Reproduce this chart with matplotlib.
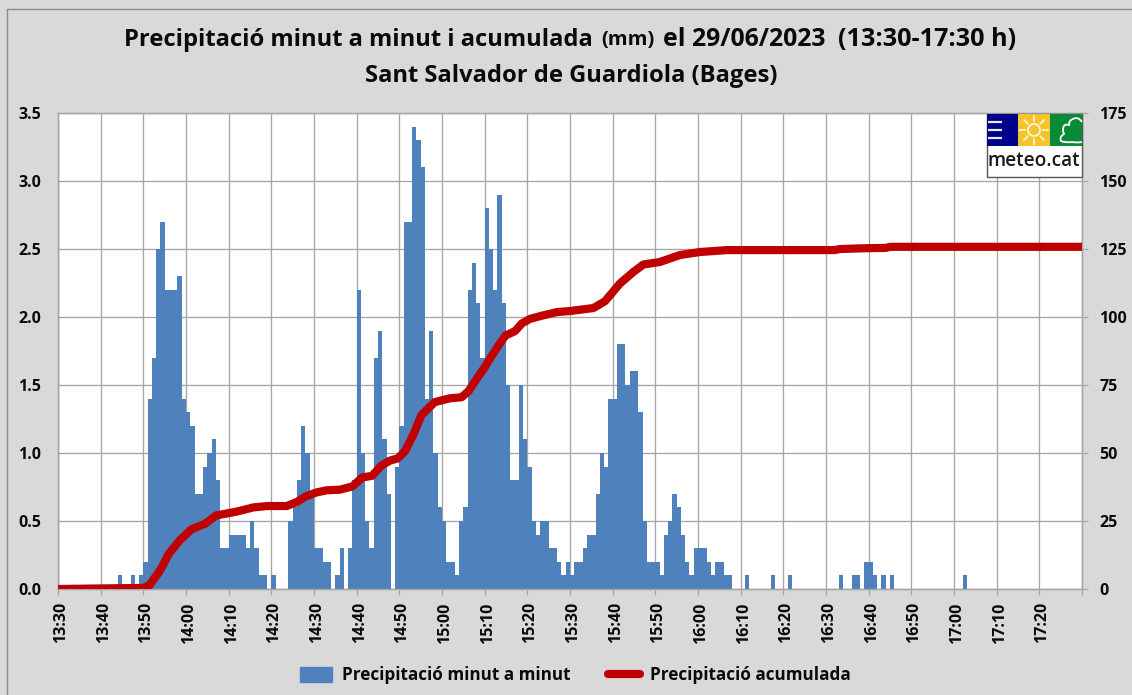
import matplotlib
matplotlib.use("Agg")
import matplotlib.pyplot as plt
from matplotlib.patches import Rectangle, Circle, PathPatch
from matplotlib.path import Path
from matplotlib.lines import Line2D
from matplotlib.transforms import ScaledTranslation
import numpy as np

plt.rcParams['font.family'] = ['Open Sans', 'DejaVu Sans']

# precipitation per minute (mm), one value per minute from 13:30
rain = [
    0, 0, 0, 0, 0, 0, 0, 0, 0, 0,
    0, 0, 0, 0, 0.1, 0, 0, 0.1, 0, 0.1,
    0.2, 1.4, 1.7, 2.5, 2.7, 2.2, 2.2, 2.2, 2.3, 1.4,
    1.3, 1.2, 0.7, 0.7, 0.9, 1.0, 1.1, 0.8, 0.3, 0.3,
    0.4, 0.4, 0.4, 0.4, 0.3, 0.5, 0.3, 0.1, 0.1, 0,
    0.1, 0, 0, 0, 0.5, 0.6, 0.8, 1.2, 1.0, 0.7,
    0.3, 0.3, 0.2, 0.2, 0, 0.1, 0.3, 0, 0.3, 0.8,
    2.2, 1.0, 0.5, 0.3, 1.7, 1.9, 1.1, 0.7, 0, 0.9,
    1.2, 2.7, 2.7, 3.4, 3.3, 3.1, 1.4, 1.9, 1.0, 0.6,
    0.5, 0.2, 0.2, 0.1, 0.5, 0.6, 2.2, 2.4, 2.1, 1.7,
    2.8, 2.5, 2.2, 2.9, 2.1, 1.5, 0.8, 0.8, 1.5, 1.1,
    0.9, 0.5, 0.4, 0.5, 0.5, 0.3, 0.3, 0.2, 0.1, 0.2,
    0.1, 0.2, 0.2, 0.3, 0.4, 0.4, 0.7, 1.0, 0.9, 1.4,
    1.4, 1.8, 1.8, 1.5, 1.6, 1.6, 1.3, 0.5, 0.2, 0.2,
    0.2, 0.1, 0.4, 0.5, 0.7, 0.6, 0.4, 0.2, 0.1, 0.3,
    0.3, 0.3, 0.2, 0.1, 0.2, 0.2, 0.1, 0.1, 0, 0,
    0, 0.1, 0, 0, 0, 0, 0, 0.1, 0, 0,
    0, 0.1, 0, 0, 0, 0, 0, 0, 0, 0,
    0, 0, 0, 0.1, 0, 0, 0.1, 0.1, 0, 0.2,
    0.2, 0.1, 0, 0.1, 0, 0.1, 0, 0, 0, 0,
    0, 0, 0, 0, 0, 0, 0, 0, 0, 0,
    0, 0, 0.1, 0, 0, 0, 0, 0, 0, 0,
    0, 0, 0, 0, 0, 0, 0, 0, 0, 0,
    0, 0, 0, 0, 0, 0, 0, 0, 0, 0,
]

# accumulated precipitation (mm)
acc_min = [0, 20, 21.5, 24, 26, 28.6, 31.3, 34.5, 37, 42, 45.8, 49, 53.6, 56, 58, 60.6,
           63, 66, 69, 71.3, 73.6, 75.8, 77.8, 79.6, 81.3, 83.3, 85.2, 88.3, 91.8, 94.6,
           96.2, 98.1, 100, 101.6, 103.2, 104.9, 107.1, 108.7, 110.6, 113.7, 116.9, 120,
           125.5, 128.2, 131.7, 134.8, 137.2, 141, 145.8, 150.5, 156.8, 182, 183.3,
           189.6, 194, 195, 240]
acc_mm = [0, 0.4, 1.5, 7, 13, 18, 22, 24, 27, 28.5, 30, 30.5, 30.5, 32, 34, 35.5,
          36.3, 36.5, 37.7, 41, 41.6, 45.4, 47.2, 48, 50.6, 56.8, 64, 68.7, 70.1, 70.5,
          72.7, 77.2, 81.5, 85.6, 89.5, 93.2, 94.8, 97.6, 99.3, 100.6, 101.8, 102.2,
          103.3, 105.8, 112.3, 116.5, 119.3, 120.2, 122.8, 123.9, 124.6, 124.6, 125,
          125.3, 125.4, 125.8, 125.8]

tick_labels = ["13:30", "13:40", "13:50", "14:00", "14:10", "14:20", "14:30", "14:40",
               "14:50", "15:00", "15:10", "15:20", "15:30", "15:40", "15:50", "16:00",
               "16:10", "16:20", "16:30", "16:40", "16:50", "17:00", "17:10", "17:20", ""]

W, H = 1132, 695
bg = '#D9D9D9'
grid_col = '#A6A6A6'
blue = '#4F81BD'
red = '#C00000'
txt = '#0A0A0A'
tick_size = 11.5
title_size = 17.1

fig = plt.figure(figsize=(W / 100, H / 100), dpi=100, facecolor=bg)
ax = fig.add_axes([58 / W, (H - 589) / H, 1024 / W, 476 / H])
ax.set_facecolor('white')

ax.bar(np.arange(len(rain)), rain, width=1.0, align='edge', color=blue, linewidth=0, zorder=3)
ax.set_xlim(0, 240)
ax.set_ylim(0, 3.5)
ax.set_yticks(np.arange(0, 3.51, 0.5))
ax.set_yticklabels(["%.1f" % v for v in np.arange(0, 3.51, 0.5)], fontsize=tick_size,
                   fontweight='bold', color=txt)
ax.set_xticks(np.arange(0, 241, 10))
ax.set_xticklabels(tick_labels, rotation=90, fontsize=tick_size, fontweight='bold', color=txt)
ax.tick_params(axis='x', length=4.5, width=0.9, color=grid_col, pad=5)
ax.tick_params(axis='y', length=0, pad=12)
ax.grid(True, color=grid_col, linewidth=0.95, zorder=1)
ax.set_axisbelow(True)
for t in ax.get_xticklabels():
    t.set_transform(t.get_transform() + ScaledTranslation(3 / 100, 0, fig.dpi_scale_trans))

ax2 = ax.twinx()
ax2.plot(acc_min, acc_mm, color=red, linewidth=5.9, solid_capstyle='butt',
         solid_joinstyle='round', zorder=5)
ax2.set_ylim(0, 175)
ax2.set_yticks(np.arange(0, 176, 25))
ax2.set_yticklabels([str(v) for v in range(0, 176, 25)], fontsize=tick_size, fontweight='bold', color=txt)
ax2.tick_params(axis='y', length=4.5, width=0.9, color=grid_col, pad=8)
for a in (ax, ax2):
    for s in a.spines.values():
        s.set_color(grid_col)
        s.set_linewidth(0.95)

# title, the (mm) part is smaller
title_y = 1 - 39.5 / H
fig.text(124 / W, title_y, "Precipitació minut a minut i acumulada", fontsize=title_size, fontweight='bold',
         color=txt, ha='left', va='center')
fig.text(601 / W, title_y, "(mm)", fontsize=14.5, fontweight='bold', color=txt, ha='left', va='center')
fig.text(663 / W, title_y, "el 29/06/2023", fontsize=17.9, fontweight='bold', color=txt, ha='left', va='center')
fig.text(838 / W, title_y, "(13:30-17:30 h)", fontsize=18.2, fontweight='bold', color=txt, ha='left', va='center')
fig.text(571 / W, 1 - 76 / H, "Sant Salvador de Guardiola (Bages)", fontsize=title_size, fontweight='bold',
         color=txt, ha='center', va='center')

# legend
handles = [Rectangle((0, 0), 1, 1, color=blue),
           Line2D([0], [0], color=red, linewidth=5.9, solid_capstyle='round')]
fig.legend(handles, ["Precipitació minut a minut", "Precipitació acumulada"], ncol=2,
           loc='center', bbox_to_anchor=(575 / W, 1 - 675.5 / H), frameon=False,
           prop={'size': 12.3, 'weight': 'bold'}, labelcolor=txt, handlelength=1.9,
           handleheight=1.0, handletextpad=0.55, columnspacing=2.2)

# pixel coordinates: outer frame and meteo.cat logo
logo = fig.add_axes([0, 0, 1, 1], zorder=10)
logo.set_xlim(0, W)
logo.set_ylim(H, 0)
logo.axis('off')
logo.patch.set_alpha(0)
logo.plot([6.5, 6.5, W], [H, 8.5, 8.5], color='#8C8C8C', linewidth=1)
logo.add_patch(Rectangle((987, 114), 95, 63, facecolor='white', edgecolor='#555555', linewidth=1))
logo.add_patch(Rectangle((987, 114), 31, 32, facecolor='#00008B', linewidth=0))
logo.add_patch(Rectangle((1018, 114), 32, 32, facecolor='#F5C32C', linewidth=0))
logo.add_patch(Rectangle((1050, 114), 32, 32, facecolor='#0A8A36', linewidth=0))
for y in (122, 130, 138):
    logo.plot([988, 1002], [y, y], color='#E8E8F5', linewidth=1.6, solid_capstyle='butt')
logo.add_patch(Circle((1034, 130), 6, facecolor='none', edgecolor='#FFF6D0', linewidth=1.4))
for a in np.arange(0, 360, 45):
    c, s = np.cos(np.radians(a)), np.sin(np.radians(a))
    logo.plot([1034 + 9 * c, 1034 + 14 * c], [130 + 9 * s, 130 + 14 * s], color='#FFF6D0', linewidth=1.3)
cloud_pts = [(1082, 122), (1078, 116), (1073, 119), (1069, 120), (1069, 125), (1063, 123), (1063, 130),
             (1063, 132), (1064, 134), (1059, 137), (1061, 141), (1065, 143), (1072, 142), (1077, 143), (1082, 142)]
cloud_codes = [Path.MOVETO] + [Path.CURVE3] * 14
logo.add_patch(PathPatch(Path(cloud_pts, cloud_codes), facecolor='none', edgecolor='white', linewidth=1.3))
logo.text(1034, 161.5, "meteo.cat", fontsize=13.7, fontweight=600, color='#1A1A1A', ha='center', va='center')

fig.savefig("out.png", dpi=100, facecolor=bg)
